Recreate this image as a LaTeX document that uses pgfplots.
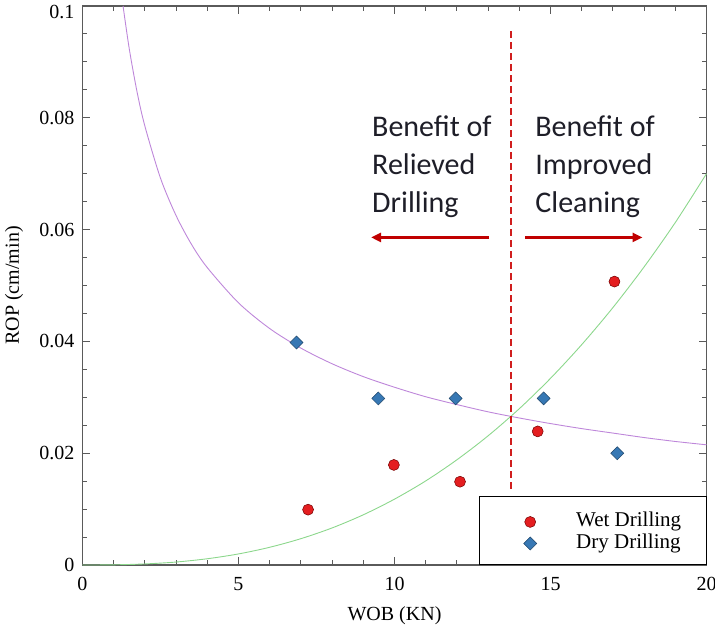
\documentclass[border=0pt]{standalone}
\usepackage{pgfplots}
\pgfplotsset{compat=1.18}
\usepackage{fontspec}
\setmainfont{Liberation Serif}
\newfontfamily\calibri{Carlito}
\usetikzlibrary{arrows.meta}
\definecolor{wetred}{RGB}{228,30,32}
\definecolor{dryblue}{RGB}{55,120,180}
\definecolor{fitpurple}{RGB}{190,135,218}
\definecolor{fitgreen}{RGB}{140,215,140}
\definecolor{dashred}{RGB}{208,30,30}
\definecolor{arrowred}{RGB}{192,0,0}
\definecolor{axisgray}{RGB}{90,90,90}
\definecolor{textdark}{RGB}{30,30,40}
\pgfplotsset{mylegend/.style={legend image code/.code={\path[draw=none,fill=none] (0pt,-9pt) rectangle (86pt,9pt); \draw[mark repeat=2,mark phase=2,##1] plot coordinates {(0pt,-2pt) (42pt,-2pt) (84pt,-2pt)};}}}
\begin{document}
\begin{tikzpicture}
\begin{axis}[
  at={(0,0)}, anchor=south west,
  scale only axis, width=624pt, height=559pt,
  xmin=0, xmax=20, ymin=0, ymax=0.1,
  xtick={0,5,10,15,20}, ytick={0,0.02,0.04,0.06,0.08,0.1},
  yticklabels={0,0.02,0.04,0.06,0.08,\raisebox{-6pt}[\height][\depth]{0.1}},
  minor x tick num=4, minor y tick num=3,
  scaled y ticks=false,
  /pgf/number format/assume math mode=true,
  tick label style={font=\fontsize{20}{24}\selectfont},
  yticklabel style={anchor=east, inner sep=0pt, xshift=-8pt},
  xticklabel style={anchor=base, inner sep=0pt, yshift=-25pt},
  major tick length=8pt, minor tick length=5pt,
  tick style={axisgray, line width=1pt},
  axis line style={axisgray, line width=1.5pt},
  xlabel={WOB (KN)}, ylabel={ROP (cm/min)},
  every axis x label/.style={at={(axis description cs:0.5,-0.100)}, anchor=base, font=\fontsize{20}{24}\selectfont},
  every axis y label/.style={at={(axis description cs:-0.1098,0.5)}, rotate=90, anchor=center, font=\fontsize{20}{24}\selectfont},
  legend style={at={(1,0)}, anchor=south east, draw=black, line width=0.6pt, fill=white,
    inner xsep=9pt, inner ysep=12pt, font=\fontsize{21}{25}\selectfont,
    nodes={inner sep=2pt, text height=16pt, text depth=2.5pt}, row sep=-1pt},
  legend cell align=left,
]
% fitted curves
\addplot[fitpurple, line width=0.9pt, smooth, forget plot] coordinates {
(1.3,0.1) (1.5,0.0923) (1.75,0.0846) (2,0.0785) (2.5,0.0692) (3,0.0625) (3.5,0.0573)
(4,0.0532) (5,0.0469) (6,0.0423) (7,0.0388) (8,0.0360) (9,0.0337) (10,0.0318)
(11,0.0301) (12,0.0287) (13,0.0274) (14,0.0263) (15,0.0253) (16,0.0244) (17,0.0236)
(18,0.0228) (19,0.0221) (20,0.0215)};
\addplot[fitgreen, line width=0.9pt, smooth, forget plot] coordinates {
(0,0) (1,0.00003) (2,0.00019) (3,0.00053) (4,0.00112) (5,0.00198) (6,0.00317)
(7,0.00471) (8,0.00663) (9,0.00898) (10,0.01178) (11,0.01504) (12,0.01882)
(13,0.02311) (14,0.02796) (15,0.03339) (16,0.03942) (17,0.04605) (18,0.05333)
(19,0.06127) (20,0.07)};
% dashed divider
\addplot[dashred, line width=2.5pt, dash pattern=on 7pt off 4pt, forget plot] coordinates {(13.74,0.0955) (13.74,0.0134)};
% arrows
\addplot[arrowred, line width=2.5pt, -{Triangle[length=10pt,width=9pt]}, forget plot] coordinates {(13.03,0.0586) (9.25,0.0586)};
\addplot[arrowred, line width=2.5pt, -{Triangle[length=10pt,width=9pt]}, forget plot] coordinates {(14.19,0.0586) (17.95,0.0586)};
% data
\addplot[only marks, mark=*, mark size=5.5pt, mark options={fill=wetred, draw=red!45!black, line width=0.5pt}, mylegend]
  coordinates {(7.23,0.0099) (9.98,0.0179) (12.10,0.0149) (14.59,0.0239) (17.05,0.0507)};
\addlegendentry{\makebox[119pt][l]{Wet Drilling}}
\addplot[only marks, mark=square*, mark size=4.6pt, mark options={rotate=45, fill=dryblue, draw=dryblue!60!black, line width=0.5pt}, mylegend]
  coordinates {(6.86,0.0398) (9.48,0.0298) (11.96,0.0298) (14.78,0.0298) (17.14,0.0200)};
\addlegendentry{\makebox[119pt][l]{Dry Drilling}}
% annotations
\node[anchor=base west, inner sep=0pt, text=textdark, font=\calibri\fontsize{30}{36}\selectfont] at (axis cs:9.28,0.0766) {Benefit of};
\node[anchor=base west, inner sep=0pt, text=textdark, font=\calibri\fontsize{30}{36}\selectfont] at (axis cs:9.28,0.0698) {Relieved};
\node[anchor=base west, inner sep=0pt, text=textdark, font=\calibri\fontsize{30}{36}\selectfont] at (axis cs:9.28,0.0630) {Drilling};
\node[anchor=base west, inner sep=0pt, text=textdark, font=\calibri\fontsize{30}{36}\selectfont] at (axis cs:14.51,0.0766) {Benefit of};
\node[anchor=base west, inner sep=0pt, text=textdark, font=\calibri\fontsize{30}{36}\selectfont] at (axis cs:14.51,0.0698) {Improved};
\node[anchor=base west, inner sep=0pt, text=textdark, font=\calibri\fontsize{30}{36}\selectfont] at (axis cs:14.51,0.0630) {Cleaning};
\end{axis}
\pgfresetboundingbox
\path[use as bounding box] (-82.5pt,-59pt) rectangle (632.5pt,565pt);
\end{tikzpicture}
\end{document}
